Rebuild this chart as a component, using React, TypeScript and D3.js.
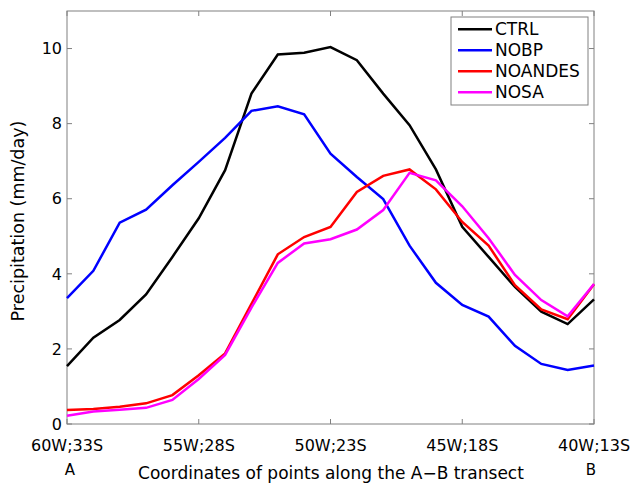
import React, { useEffect, useRef } from 'react';
import * as d3 from 'd3';

// transect points, one every degree from 60W;33S (0) to 40W;13S (20)
const pointIndex = d3.range(0, 21);

const ctrl = [1.54, 2.3, 2.77, 3.45, 4.45, 5.48, 6.76, 8.8, 9.84, 9.89, 10.04, 9.69, 8.8, 7.96, 6.78, 5.25, 4.45, 3.65, 2.99, 2.66, 3.32];
const nobp = [3.35, 4.08, 5.36, 5.71, 6.36, 6.98, 7.62, 8.34, 8.46, 8.25, 7.2, 6.58, 5.99, 4.75, 3.76, 3.17, 2.86, 2.08, 1.6, 1.44, 1.56];
const noandes = [0.37, 0.4, 0.46, 0.55, 0.77, 1.3, 1.88, 3.2, 4.52, 4.98, 5.25, 6.18, 6.61, 6.78, 6.25, 5.38, 4.75, 3.7, 3.05, 2.79, 3.72];
const nosa = [0.22, 0.33, 0.38, 0.43, 0.64, 1.2, 1.84, 3.1, 4.29, 4.81, 4.92, 5.18, 5.7, 6.69, 6.49, 5.8, 4.95, 3.97, 3.3, 2.87, 3.73];

const seriesNames = ['CTRL', 'NOBP', 'NOANDES', 'NOSA'];
const seriesColors = ['#000000', '#0000ff', '#ff0000', '#ff00ff'];
const seriesValues = [ctrl, nobp, noandes, nosa];

const xTickValues = [0, 5, 10, 15, 20];
const xTickLabels = ['60W;33S', '55W;28S', '50W;23S', '45W;18S', '40W;13S'];
const yTickValues = [0, 2, 4, 6, 8, 10];

const App = () => {
  const ref = useRef(null);

  useEffect(() => {
    const root = d3.select(ref.current);
    root.selectAll('*').remove();

    const W = 630;
    const H = 486;
    const margin = { top: 11, right: 36, bottom: 62, left: 67 };
    const width = W - margin.left - margin.right;
    const height = H - margin.top - margin.bottom;
    const font = "'DejaVu Sans', Verdana, sans-serif";
    const axisColor = '#808080';

    const svg = root
      .append('svg')
      .attr('width', W)
      .attr('height', H)
      .style('position', 'absolute')
      .style('left', 0)
      .style('top', 0)
      .style('background', '#fff');

    const g = svg.append('g').attr('transform', `translate(${margin.left},${margin.top})`);

    const x = d3.scaleLinear().domain([0, 20]).range([0, width]);
    const y = d3.scaleLinear().domain([0, 11]).range([height, 0]);

    // frame
    g.append('rect')
      .attr('width', width)
      .attr('height', height)
      .attr('fill', 'none')
      .attr('stroke', axisColor)
      .attr('stroke-width', 1);

    const tickLen = 5;
    // ticks on all four sides, pointing in
    xTickValues.forEach((v) => {
      g.append('line').attr('x1', x(v)).attr('x2', x(v)).attr('y1', height).attr('y2', height - tickLen).attr('stroke', axisColor);
      g.append('line').attr('x1', x(v)).attr('x2', x(v)).attr('y1', 0).attr('y2', tickLen).attr('stroke', axisColor);
    });
    yTickValues.forEach((v) => {
      g.append('line').attr('x1', 0).attr('x2', tickLen).attr('y1', y(v)).attr('y2', y(v)).attr('stroke', axisColor);
      g.append('line').attr('x1', width).attr('x2', width - tickLen).attr('y1', y(v)).attr('y2', y(v)).attr('stroke', axisColor);
    });

    // tick labels
    g.selectAll('.xlab')
      .data(xTickValues)
      .enter()
      .append('text')
      .attr('x', (d) => x(d))
      .attr('y', height + 27)
      .attr('text-anchor', 'middle')
      .style('font-family', font)
      .style('font-size', '16px')
      .text((d, i) => xTickLabels[i]);

    g.selectAll('.ylab')
      .data(yTickValues)
      .enter()
      .append('text')
      .attr('x', -5)
      .attr('y', (d) => y(d))
      .attr('dy', '0.36em')
      .attr('text-anchor', 'end')
      .style('font-family', font)
      .style('font-size', '16px')
      .text((d) => d);

    // lines
    const line = d3
      .line()
      .x((d, i) => x(pointIndex[i]))
      .y((d) => y(d));

    seriesValues.forEach((vals, k) => {
      g.append('path')
        .datum(vals)
        .attr('fill', 'none')
        .attr('stroke', seriesColors[k])
        .attr('stroke-width', 2.5)
        .attr('d', line);
    });

    // axis titles
    svg.append('text')
      .attr('x', 331)
      .attr('y', 479)
      .attr('text-anchor', 'middle')
      .style('font-family', font)
      .style('font-size', '17px')
      .text('Coordinates of points along the A\u2212B transect');

    svg.append('text')
      .attr('x', 70)
      .attr('y', 475)
      .attr('text-anchor', 'middle')
      .style('font-family', font)
      .style('font-size', '15px')
      .text('A');

    svg.append('text')
      .attr('x', 591)
      .attr('y', 475)
      .attr('text-anchor', 'middle')
      .style('font-family', font)
      .style('font-size', '15px')
      .text('B');

    svg.append('text')
      .attr('transform', `translate(24,221) rotate(-90)`)
      .attr('text-anchor', 'middle')
      .style('font-family', font)
      .style('font-size', '17.5px')
      .text('Precipitation (mm/day)');

    // legend
    const lg = svg.append('g').attr('transform', 'translate(451,17)');
    lg.append('rect')
      .attr('width', 137)
      .attr('height', 88)
      .attr('fill', '#fff')
      .attr('stroke', axisColor);
    seriesNames.forEach((name, k) => {
      const ry = 12.3 + k * 21;
      lg.append('line')
        .attr('x1', 7)
        .attr('x2', 41)
        .attr('y1', ry)
        .attr('y2', ry)
        .attr('stroke', seriesColors[k])
        .attr('stroke-width', 2.5);
      lg.append('text')
        .attr('x', 44)
        .attr('y', ry)
        .attr('dy', '0.36em')
        .style('font-family', font)
        .style('font-size', '17px')
        .text(name);
    });
  }, []);

  return <div ref={ref}></div>;
};

export default App;
